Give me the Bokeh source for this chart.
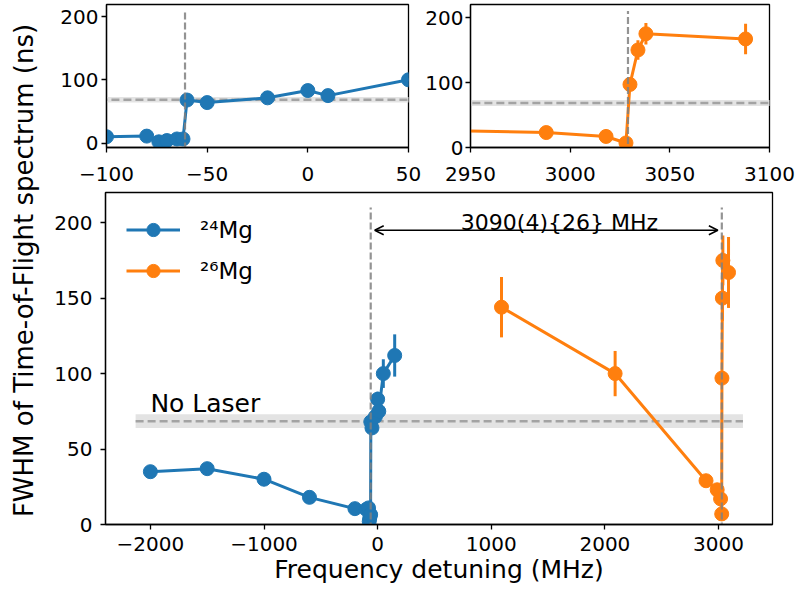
import numpy as np
from bokeh.plotting import figure
from bokeh.models import (Range1d, FixedTicker, Label, Arrow, OpenHead,
                          Legend, LegendItem)
from bokeh.layouts import row, column
from bokeh.embed import file_html
from bokeh.resources import INLINE

# ---------------- data ----------------
mg24_x = [-2000, -1500, -1000, -600, -200, -100, -80, -74, -70, -65, -62,
          -60, -50, -20, 0, 10, 50, 150]
mg24_y = [35, 37, 30, 18, 10.5, 10, 11, 2, 4, 6.5, 6.5,
          68, 64, 71.5, 83, 75, 100, 112]
mg24_err = [2, 2, 2, 2, 2, 2, 2, 2, 2, 2, 2,
            3, 3, 3, 5, 4, 9.5, 14]

mg26_x = [1090, 2090, 2890, 2988, 3018, 3028, 3030, 3034, 3038, 3088]
mg26_y = [144, 100, 29, 23, 17, 7, 97, 150, 175, 167]
mg26_err = [20, 15, 2, 2, 2, 2, 3, 15, 16.5, 23.5]

resonance_x = [-61, 3029]          # dashed vertical markers
resonance_ylim = [-10, 210]
shift_label = "3090(4){26} MHz"
shift_arrow_y = 195
shift_label_x = 1600
shift_label_y = 200

nolaser_mean = 68.5
nolaser_err = 4.5
nolaser_xlim = [-2130, 3215]
nolaser_label = "No Laser"
nolaser_label_x = -2000
nolaser_label_y = 80

main_xticks = [-2000, -1000, 0, 1000, 2000, 3000]
main_yticks = [0, 50, 100, 150, 200]
in1_xticks = [-100, -50, 0, 50]
in2_xticks = [2950, 3000, 3050, 3100]
in_yticks = [0, 100, 200]

labels = ["\u00b2\u2074Mg", "\u00b2\u2076Mg"]
BLUE = "#1f77b4"
ORANGE = "#ff7f0e"
FONT = "DejaVu Sans"


def fmt(v):
    return f"{v:g}".replace("-", "\u2212")


def style(p, xticks, yticks, xstand, ystand):
    p.grid.visible = False
    p.outline_line_color = "black"
    p.outline_line_width = 1.3
    p.xaxis.ticker = FixedTicker(ticks=xticks)
    p.yaxis.ticker = FixedTicker(ticks=yticks)
    p.xaxis.major_label_overrides = {t: fmt(t) for t in xticks}
    p.yaxis.major_label_overrides = {t: fmt(t) for t in yticks}
    for ax in p.axis:
        ax.axis_line_color = "black"
        ax.axis_line_width = 1.3
        ax.major_tick_in = 0
        ax.major_tick_out = 5
        ax.major_tick_line_width = 1.3
        ax.major_tick_line_color = "black"
        ax.minor_tick_line_color = None
        ax.major_label_text_font = FONT
        ax.major_label_text_font_size = "20px"
        ax.major_label_text_color = "black"
    p.xaxis.major_label_standoff = xstand
    p.yaxis.major_label_standoff = ystand


def draw(p):
    p.quad(left=[nolaser_xlim[0]], right=[nolaser_xlim[1]],
           bottom=[nolaser_mean - nolaser_err], top=[nolaser_mean + nolaser_err],
           fill_color="#e3e3e3", line_color=None)
    p.line(nolaser_xlim, [nolaser_mean, nolaser_mean], line_color="#a3a3a3",
           line_width=2.5, line_dash="8 4")
    rends = []
    for xs, ys, es, c in [(mg24_x, mg24_y, mg24_err, BLUE),
                          (mg26_x, mg26_y, mg26_err, ORANGE)]:
        xs = np.array(xs, float)
        ys = np.array(ys, float)
        es = np.array(es, float)
        p.segment(x0=xs, y0=ys - es, x1=xs, y1=ys + es, line_color=c, line_width=3)
        l = p.line(xs, ys, line_color=c, line_width=3)
        s = p.scatter(xs, ys, size=14, fill_color=c, line_color=c)
        rends.append((l, s, c))
    p.segment(x0=resonance_x, y0=[resonance_ylim[0]] * 2,
              x1=resonance_x, y1=[resonance_ylim[1]] * 2,
              line_color="gray", line_alpha=0.85, line_width=2.2, line_dash="7 3")
    return rends


TOTAL_H = 586

# ---------------- y-label column ----------------
lab = figure(width=48, height=TOTAL_H, toolbar_location=None, output_backend="svg",
             x_axis_type=None, y_axis_type=None, min_border=0,
             x_range=Range1d(0, 1), y_range=Range1d(0, 1))
lab.outline_line_color = None
lab.grid.visible = False
lab.add_layout(Label(x=23, y=TOTAL_H - 270, x_units="screen", y_units="screen",
                     text="FWHM of Time-of-Flight spectrum (ns)", angle=np.pi / 2,
                     text_align="center", text_baseline="alphabetic",
                     text_font=FONT, text_font_size="26px", text_color="black"))

# ---------------- inset 1 ----------------
p1 = figure(width=374, height=191, toolbar_location=None, output_backend="svg",
            x_range=Range1d(-100, 50), y_range=Range1d(-7, 219),
            min_border_left=58, min_border_right=14, min_border_top=4,
            min_border_bottom=44)
style(p1, in1_xticks, in_yticks, 14, 3)
draw(p1)

# ---------------- inset 2 ----------------
p2 = figure(width=373, height=191, toolbar_location=None, output_backend="svg",
            x_range=Range1d(2950, 3100), y_range=Range1d(0, 220),
            min_border_left=47, min_border_right=26, min_border_top=4,
            min_border_bottom=44)
style(p2, in2_xticks, in_yticks, 14, 2)
draw(p2)

# ---------------- main ----------------
p3 = figure(width=747, height=TOTAL_H - 191, toolbar_location=None, output_backend="svg",
            x_range=Range1d(-2395, 3475), y_range=Range1d(0, 220),
            min_border_left=57, min_border_right=23, min_border_top=1,
            min_border_bottom=62)
style(p3, main_xticks, main_yticks, 7, 8)
p3.xaxis.axis_label = "Frequency detuning (MHz)"
p3.xaxis.axis_label_text_font = FONT
p3.xaxis.axis_label_text_font_size = "25px"
p3.xaxis.axis_label_text_font_style = "normal"
p3.xaxis.axis_label_text_color = "black"
p3.xaxis.axis_label_standoff = 1
rends = draw(p3)

p3.add_layout(Arrow(start=OpenHead(size=9, line_width=1.5, line_color="black"),
                    end=OpenHead(size=9, line_width=1.5, line_color="black"),
                    x_start=resonance_x[0] + 35, x_end=resonance_x[1] - 35,
                    y_start=shift_arrow_y, y_end=shift_arrow_y,
                    line_width=1.5, line_color="black"))
p3.add_layout(Label(x=shift_label_x, y=shift_label_y, text=shift_label,
                    text_align="center", text_baseline="alphabetic",
                    text_font=FONT, text_font_size="22px", text_color="black"))
p3.add_layout(Label(x=nolaser_label_x, y=nolaser_label_y, text=nolaser_label,
                    text_align="left", text_baseline="alphabetic",
                    text_font=FONT, text_font_size="25px", text_color="black"))

items = [LegendItem(label=lbl, renderers=[l, s]) for (l, s, c), lbl in zip(rends, labels)]
leg = Legend(items=items, location="top_left", border_line_color=None,
             background_fill_alpha=0, glyph_width=54, glyph_height=33,
             label_height=33, label_standoff=20, spacing=8, padding=0, margin=21,
             label_text_font=FONT, label_text_font_size="23px",
             label_text_color="black")
p3.add_layout(leg)

layout = row(lab, column(row(p1, p2), p3))
open("out.html", "w").write(file_html(layout, INLINE))
